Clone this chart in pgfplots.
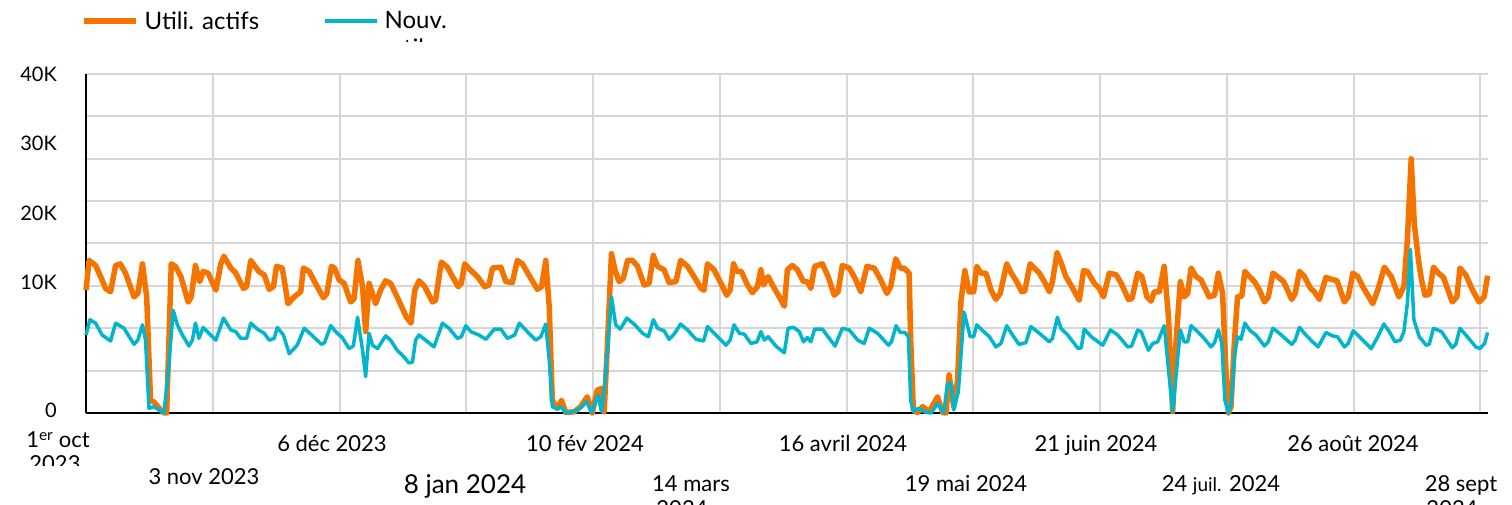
\documentclass[border=0pt]{standalone}
\usepackage{pgfplots}
\pgfplotsset{compat=1.18}
\usepackage{fontspec}
\setmainfont{Lato}
\definecolor{orng}{RGB}{245,116,0}
\definecolor{cyn}{RGB}{0,181,204}
\definecolor{grd}{RGB}{214,214,214}
\begin{document}
\begin{tikzpicture}[x=1pt,y=1pt]
\path[use as bounding box, clip] (-86,-92) rectangle (1426,413);
\begin{axis}[
  at={(0pt,0pt)}, anchor=south west,
  scale only axis, width=1402pt, height=339pt,
  xmin=0, xmax=365, ymin=0, ymax=40,
  clip=false,
  axis lines=left,
  axis line style={line width=2pt, black, -},
  major tick length=0pt, minor tick length=0pt,
  xtick={0,33,66,99,132,165,198,231,264,297,330,363},
  xticklabels={},
  xmajorgrids=true,
  ytick={0.35,15.4,23.6,31.8,40},
  yticklabels={0,10K,20K,30K,40K},
  minor ytick={5,10,15,20,25,30,35,40},
  ymajorgrids=false, yminorgrids=true,
  grid style={grd, line width=2pt},
  minor grid style={grd, line width=2pt},
  yticklabel style={font=\fontsize{20}{24}\selectfont, inner sep=0pt, xshift=-29pt},
  legend columns=2,
  legend image code/.code={\draw[#1] (0pt,0pt) -- (52pt,0pt);},
  legend style={at={(axis description cs:0,1.156)}, anchor=west, xshift=-8pt,
    draw=none, fill=none, font=\fontsize{24}{29}\selectfont,
    nodes={inner xsep=6pt, inner ysep=0pt},
    /tikz/every even column/.append style={column sep=58pt}},
]
\addplot[orng, line width=5.5pt, line join=round] coordinates {
(0,14.5) (0.8,18.0) (2.5,17.4) (3.8,16.1) (5.1,14.7) (6.4,14.3) (7.7,17.4) (8.9,17.6) (10.3,16.5) (12.5,13.7) (13.5,14.1) (14.7,17.6) (15.8,13.7) (16.8,1.5) (17.7,1.3) (19,0.6) (20.3,0) (21,0) (22.2,17.6) (23.3,17.3) (24.7,16.1) (26.6,13.1) (27.4,13.7) (28.5,17.4) (29.6,15.5) (30.5,16.7) (31.8,16.5) (33.8,14.5) (35.1,17.6) (35.9,18.5) (37.7,17.1) (39,16.5) (41,14.7) (41.8,14.9) (42.9,18.0) (45,16.7) (46.4,16.3) (47.7,14.6) (48.8,14.9) (49.6,17.3) (51.1,17.1) (52.6,12.9) (54.2,13.7) (55.9,14.3) (56.6,17.1) (58.1,16.7) (60.2,14.9) (61.8,13.6) (62.7,14.1) (63.9,17.3) (64.7,17.1) (65.9,15.7) (67.2,15.3) (68.9,13.1) (69.8,13.5) (70.8,18.0) (72,14.9) (72.8,9.6) (73.7,15.3) (75.4,12.9) (76.7,14.5) (78,15.6) (79.3,15.3) (81,13.7) (83.3,11.4) (84.6,10.6) (85.6,14.5) (86.7,15.6) (88.2,14.9) (90.2,13.1) (91,13.3) (92.5,17.8) (94.1,17.2) (95.4,16.1) (96.9,14.9) (97.7,15.3) (98.6,17.6) (100,16.9) (101.9,16.1) (103.8,14.9) (104.9,15.1) (105.8,17.1) (108,17.2) (109.3,15.5) (111,15.4) (112.3,18.0) (113.6,17.6) (115.8,15.9) (117.5,14.6) (118.6,14.9) (119.7,18.0) (120.6,12.5) (121.4,1.5) (122.7,0.55) (123.8,1.5) (124.9,0.05) (127.1,0.15) (128.8,0.75) (130.5,1.9) (131.8,0) (133.1,2.7) (134.2,2.9) (134.9,0.15) (135.8,8.6) (136.8,18.8) (137.7,16.9) (138.8,15.5) (139.9,15.9) (141,18.0) (142.3,18.0) (143.6,17.3) (145.3,15.1) (146.6,15.3) (147.7,18.6) (148.8,17.3) (150.5,16.9) (151.8,15.4) (153.6,15.5) (154.8,18.0) (156.6,17.3) (158.3,16.1) (160.1,14.7) (160.9,14.5) (161.8,17.6) (163.5,16.9) (165.3,15.3) (166.8,13.9) (167.7,14.5) (168.6,17.6) (169.4,16.7) (170.6,16.7) (172.2,15.1) (173.5,14.2) (174.8,14.9) (175.7,16.9) (176.4,15.1) (177.6,16.1) (178.7,15.1) (180.5,13.7) (181.8,12.6) (182.6,16.9) (183.9,17.4) (185.2,16.9) (186.8,15.5) (187.8,15.5) (188.7,14.7) (189.7,17.3) (191.7,17.6) (193.2,16.1) (194.8,13.9) (195.8,14.3) (196.9,17.4) (198.7,17.1) (200.2,15.9) (201.7,14.3) (203.3,17.3) (205.2,17.1) (206.9,15.7) (208.5,14.1) (209.5,14.9) (210.8,18.2) (212,17.1) (213,17.1) (214.3,16.5) (214.7,8.6) (215.4,0.35) (216.5,0.05) (217.8,0.75) (219.5,0.15) (221.7,1.9) (223,0.05) (223.9,0) (224.7,4.5) (225.9,0.75) (226.9,3.9) (227.8,13.3) (228.8,16.8) (229.9,14.3) (231.1,14.3) (231.9,17.3) (233,16.5) (234.3,16.5) (235.6,14.5) (236.9,13.4) (238,14.1) (239.7,17.6) (240.9,16.5) (242.3,15.5) (243.6,14.3) (244.4,14.4) (245.8,17.6) (246.9,17.1) (248.2,16.5) (249.5,15.5) (250.8,14.3) (251.6,15.5) (252.8,18.9) (253.8,17.8) (255.1,16.1) (256.4,15.1) (258.6,13.3) (259.7,16.8) (260.7,16.7) (262.5,15.3) (263.8,14.7) (264.9,13.7) (266.4,16.5) (268.2,16.3) (269.5,15.3) (271.4,13.4) (272.3,13.5) (273.8,16.5) (274.9,16.1) (276.2,13.7) (277.3,13.2) (278.1,14.3) (279.4,14.3) (280.7,17.3) (281.8,11.4) (282.9,0.15) (283.8,8.6) (284.9,15.5) (285.9,13.7) (286.8,14.1) (287.7,17.1) (289,16.1) (290.3,15.7) (292.4,13.7) (293.8,13.9) (294.8,16.5) (295.9,14.1) (296.8,4.7) (297.4,0) (298.1,0.75) (299,8.6) (299.8,13.7) (300.9,13.8) (301.7,16.7) (302.9,16.1) (304.2,15.5) (305.5,14.5) (306.8,13.1) (307.8,13.7) (309,16.5) (310.2,16.1) (311.8,15.5) (313.9,13.4) (314.8,14.1) (315.9,16.7) (317.2,16.1) (318.8,14.7) (319.8,14.3) (321.1,13.4) (322.8,16.0) (324.1,15.8) (325.7,15.6) (327.6,13.1) (328.6,13.7) (329.8,16.5) (331.1,16.1) (332.4,14.9) (335,12.9) (336.3,14.5) (338,17.2) (339.8,16.1) (341.8,13.7) (343.1,14.9) (344,20.4) (345,30.0) (345.8,22.4) (346.9,18.0) (347.7,15.7) (348.6,13.9) (349.7,14.0) (350.8,17.2) (352.1,16.5) (353.4,16.0) (355.7,13.1) (356.9,13.7) (357.7,17.1) (359.2,16.3) (361.2,14.3) (362.7,13.1) (364,13.7) (364.9,16.2)
};
\addlegendentry{Utili. actifs}
\addplot[cyn, line width=3.5pt, line join=round] coordinates {
(0,9.2) (1,11.0) (2.5,10.6) (4.2,9.2) (6.4,8.5) (7.7,10.6) (9.9,10.0) (12.5,8.1) (13.5,8.6) (14.7,10.4) (15.5,8.6) (16.4,0.55) (17.7,0.75) (19,0.35) (20.3,0) (21.4,4.7) (22.7,12.1) (23.8,10.4) (25.1,9.2) (26.8,7.9) (27.7,8.6) (28.5,10.6) (29.4,8.8) (30.5,10.1) (32,9.4) (33.8,8.6) (35.8,11.2) (37.7,9.8) (39,9.6) (40.3,8.8) (41.8,8.8) (42.9,10.6) (44.6,9.9) (46.4,9.4) (47.7,8.6) (49,8.8) (49.8,10.1) (51.4,9.2) (52.9,7.0) (55,8.0) (56.8,10.0) (58.5,9.3) (61.3,8.1) (62.1,8.3) (63.7,10.3) (65,9.6) (66.7,8.9) (68.5,7.6) (69.6,7.9) (70.7,11.3) (72,7.4) (72.8,4.3) (73.7,9.4) (74.6,8.0) (75.9,7.6) (78,9.1) (79.3,8.6) (81,7.4) (82.4,6.8) (84.1,5.9) (85,6.0) (85.8,8.6) (86.7,9.2) (88.4,8.6) (90.6,7.8) (92.8,10.6) (94.5,10.0) (96.7,8.8) (97.7,9.0) (98.9,10.3) (100.2,9.6) (102.3,9.2) (104.1,8.7) (106.3,9.9) (108,9.9) (109.7,8.8) (111.6,9.2) (112.8,10.6) (114.9,9.6) (117.1,8.6) (118.4,9.0) (119.7,10.5) (120.6,6.2) (121.4,0.75) (122.7,0.45) (123.6,0.75) (124.9,0) (127.9,0.3) (130.4,1.3) (131.6,0.05) (133.3,2.1) (134.2,0.15) (135.1,3.5) (136.8,13.7) (137.9,10.4) (139.1,9.9) (140.8,11.2) (142.9,10.4) (144.9,9.4) (146.4,9.0) (147.7,11.0) (148.8,10.0) (150.5,9.7) (151.8,8.7) (153.1,9.3) (154.8,10.5) (156.6,9.8) (158.8,8.7) (160.8,8.5) (161.8,10.2) (164,9.2) (166.6,8.0) (167.7,8.6) (168.7,10.4) (170.1,9.4) (171.4,9.3) (173.1,8.2) (174.7,8.4) (175.7,9.6) (176.6,8.6) (177.6,9.0) (179.6,7.9) (181.8,7.1) (182.8,10.0) (184.2,10.1) (185.7,9.6) (186.8,8.4) (187.8,8.9) (188.7,8.4) (189.7,9.9) (191.7,9.9) (193.5,8.8) (195,7.9) (196.9,10.0) (198.7,9.8) (200.9,8.6) (202.6,8.2) (203.9,10.0) (206.1,9.4) (208.9,8.0) (209.7,8.4) (210.9,10.3) (212,9.5) (213.2,9.5) (214.1,9.0) (214.7,1.5) (215.4,0.15) (216.7,0.55) (218.2,0.15) (220,0) (221.7,1.1) (223.3,0.05) (224.3,3.5) (225.2,3.5) (225.9,0.35) (227.1,2.5) (228.6,11.9) (230.2,9.0) (231.1,9.0) (231.9,10.4) (233.7,9.6) (235.2,9.0) (236.9,7.8) (238.2,8.2) (239.7,10.3) (241.2,9.2) (242.9,8.1) (244.7,8.3) (246,10.2) (248.2,9.4) (250.8,8.4) (251.6,8.8) (252.9,11.3) (253.8,10.0) (255.6,9.2) (258.3,7.6) (259.1,7.7) (259.9,9.9) (261.7,9.0) (264.7,8.0) (266.7,9.8) (268.6,9.2) (271.2,7.8) (272.2,7.9) (273.8,9.8) (274.7,9.6) (276.6,7.4) (277.7,8.2) (279,8.4) (280.7,10.3) (282.9,0.15) (284.9,9.8) (285.9,8.4) (286.8,8.4) (287.7,10.3) (289.4,9.6) (291.1,8.8) (292.9,7.8) (293.8,8.3) (294.8,9.8) (295.7,8.2) (296.5,1.5) (297.4,0) (298.1,1.1) (299.1,7.0) (299.8,9.0) (300.7,8.7) (301.7,10.6) (303.1,9.7) (304.6,9.2) (306.8,7.9) (307.8,8.4) (309,10.0) (310.7,9.4) (313.9,8.1) (314.8,8.6) (315.9,10.1) (317.6,9.2) (319.3,8.4) (320.8,7.8) (322.8,9.5) (324.5,9.1) (325.8,9.0) (327.6,7.8) (328.6,8.2) (329.9,9.7) (331.5,9.0) (334.6,7.6) (336.3,9.0) (337.9,10.5) (339.3,9.6) (340.8,8.4) (342.2,8.6) (343.1,9.6) (344,12.9) (344.8,19.3) (345.7,11.0) (347.1,9.0) (348.9,8.0) (349.7,8.1) (350.8,10.0) (352.9,9.6) (355.7,7.7) (356.6,8.1) (357.7,10.0) (359.6,9.0) (361.8,7.8) (362.9,7.6) (364.1,8.2) (364.9,9.5)
};
\addlegendentry{Nouv.}
\end{axis}
% x tick labels (two staggered rows)
\begin{scope}[every node/.style={inner sep=0pt, font=\fontsize{22}{26}\selectfont}]
\node[anchor=base] at (-28,-35) {1\textsuperscript{er} oct};
\begin{scope}
\clip (-86,-53) rectangle (20,-40);
\node[anchor=base] at (-31,-59) {2023};
\end{scope}
\node[anchor=base] at (246,-39) {6 déc 2023};
\node[anchor=base] at (499,-39) {10 fév 2024};
\node[anchor=base] at (757,-39) {16 avril 2024};
\node[anchor=base] at (1010,-39) {21 juin 2024};
\node[anchor=base] at (1267,-39) {26 août 2024};
\node[anchor=base] at (118,-72) {3 nov 2023};
\node[anchor=base, font=\fontsize{26}{30}\selectfont] at (379,-81) {8 jan 2024};
\node[anchor=base] at (605,-79) {14 mars};
\node[anchor=base] at (596,-104) {2024};
\node[anchor=base] at (880,-79) {19 mai 2024};
\node[anchor=base] at (1135,-79) {24 {\fontsize{19}{22}\selectfont juil.} 2024};
\node[anchor=base] at (1375,-79) {28 sept};
\node[anchor=base] at (1366,-104) {2024};
\begin{scope}
\clip (318,371) rectangle (338,376);
\node[anchor=base west, font=\fontsize{24}{29}\selectfont] at (304,356) {utilisateurs};
\end{scope}
\end{scope}
\end{tikzpicture}
\end{document}
